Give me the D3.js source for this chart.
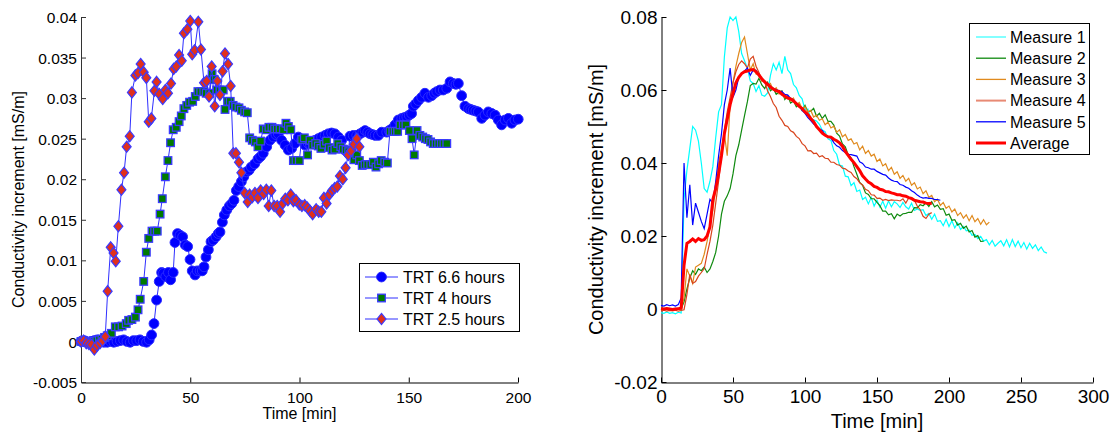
<!DOCTYPE html>
<html><head><meta charset="utf-8">
<script src="https://cdn.jsdelivr.net/npm/d3@7"></script>
<style>
body{margin:0;background:#fff}
svg{display:block}
text{font-family:"Liberation Sans",Arial,sans-serif;fill:#000}
</style>
</head><body>
<svg id="c" width="1116" height="433"></svg>
<script>
// ---------- LEFT PANEL DATA ----------
const leftSeriesNames = ["TRT 6.6 hours", "TRT 4 hours", "TRT 2.5 hours"];
const leftXTicks = [0, 50, 100, 150, 200];
const leftXTickLabels = ["0", "50", "100", "150", "200"];
const leftYTicks = [-0.005, 0, 0.005, 0.01, 0.015, 0.02, 0.025, 0.03, 0.035, 0.04];
const leftYTickLabels = ["-0.005", "0", "0.005", "0.01", "0.015", "0.02", "0.025", "0.03", "0.035", "0.04"];

const trt66Time = [0,1.5,3,4.5,6,7.5,9,10.5,12,13.5,15,16.5,18,19.5,21,22.5,24,25.5,27,28.5,30,31.2,
32.3,33.4,34.6,35.8,36.9,37.7,38.8,40,41,42.2,43,44.2,45.3,46.5,47.7,48.8,49.9,50.9,52.2,53.2,54.5,55.5,56.3,57.2,58.3,59.5,60.5,61.8,62.8,63.6,64.7,65.6,66.7,67.9,69,70,71.1,72.2,73.4,74.5,75.7,76.9,77.9,79.5,81,82.2,83.4,85,86.5,88,89.2,90.3,91.8,93.4,94.9,96.4,97.9,99.5,101,102.5,104,105.6,107.1,108.6,110.1,111.7,113.2,114.7,116.2,117.8,119.3,120.8,122.3,123.1,124.6,126.2,127.7,129,130,131.2,132.3,133.5,134.6,136.1,137.6,139.9,141,142.2,143.7,145.2,146.8,148,149.1,150.2,151.3,152.1,153.2,154.4,155.9,157.4,159,160.5,161.7,162.8,164.3,165.8,167.4,168.9,170.4,171.6,172.7,174.2,175.7,177.3,178.4,179.5,180.7,181.8,183.4,184.9,186.4,188,189.5,191,192.5,194.1,195.6,197.1,198.6,200.1];
const trt66Value = [0,.0001,-.0001,0,.0001,.0002,.0001,-.0001,-.0001,0,-.0001,0,.0001,.0002,0,-.0001,.0001,.0001,.0002,0,-.0001,.0002,
.0008,.0022,.0051,.0074,.0085,.0084,.0080,.0085,.0076,.0085,.0122,.0133,.0131,.0129,.0119,.0117,.0101,.0087,.0082,.0087,.0087,.0087,.0092,.0104,.0113,.0123,.0125,.0129,.0133,.0135,.0147,.0156,.0162,.0167,.0170,.0174,.0186,.0191,.0197,.0203,.0209,.0211,.0215,.0219,.0225,.0228,.0232,.0240,.0248,.0252,.0255,.0256,.0248,.0242,.0236,.0238,.0244,.0252,.0248,.0242,.0244,.0246,.0248,.0250,.0252,.0254,.0256,.0257,.0256,.0252,.0248,.0236,.0232,.0253,.0254,.0254,.0256,.0258,.0260,.0258,.0256,.0255,.0254,.0254,.0258,.0258,.0260,.0262,.0267,.0273,.0275,.0276,.0277,.0279,.0281,.0290,.0293,.0297,.0301,.0306,.0301,.0303,.0306,.0308,.0310,.0310,.0312,.0320,.0318,.0317,.0318,.0303,.0290,.0287,.0286,.0285,.0284,.0283,.0275,.0279,.0283,.0281,.0279,.0273,.0267,.0273,.0275,.0269,.0273,.0274];

const trt4Time = [0,1.2,2.4,3.6,4.8,6,7.2,8.4,9.6,10.8,12,13.9,15.7,17.2,18.8,20.7,21.8,23.3,24.9,26.1,27.1,28.7,29.9,31,32.5,33.7,34.9,36.2,37.2,38.6,39.8,41,42.2,43.6,44.9,45.9,47.1,48.4,49.7,51.1,52.3,53.5,54.8,56.2,57.3,58.9,60,60.9,62.1,63.6,65.1,65.9,67.1,68.3,69.6,70.9,72.3,73.4,74.9,76.1,77.2,78.4,79.8,81,82.2,83.4,84.8,86,87.4,88.6,89.8,91.1,92.6,93.8,94.9,96,97.2,98.4,99.9,101,102.2,103.7,104.8,106,107.4,108.6,109.8,111.2,112.4,113.6,114.9,116.2,117.5,118.9,120,121.3,122.5,123.9,124.9,126.2,127.4,128.7,130,131.2,132.6,133.8,135,136.2,137.4,139,140.2,141.4,142.7,143.8,144.9,146,147.5,148.7,150.3,151.5,152.5,153.8,155.1,156.4,157.6,158.8,160,161.2,162.5,163.7,164.9,166.1,167.4];
const trt4Value = [0,.0001,-.0001,0,-.0002,0,.0001,.0002,.0003,.0005,.0007,.0010,.0018,.0018,.0019,.0022,.0026,.0027,.0030,.0039,.0052,.0074,.0110,.0127,.0136,.0136,.0136,.0157,.0176,.0203,.0223,.0245,.0261,.0264,.0271,.0278,.0287,.0291,.0295,.0296,.0302,.0308,.0308,.0308,.0306,.0306,.0330,.0323,.0310,.0310,.0310,.0286,.0296,.0296,.0291,.0289,.0288,.0285,.0283,.0282,.0251,.0248,.0246,.0240,.0247,.0262,.0261,.0264,.0264,.0262,.0262,.0262,.0261,.0269,.0265,.0261,.0223,.0223,.0223,.0249,.0251,.0230,.0248,.0242,.0244,.0241,.0238,.0243,.0247,.0239,.0236,.0237,.0244,.0240,.0237,.0236,.0234,.0232,.0224,.0230,.0223,.0217,.0218,.0218,.0218,.0221,.0215,.0219,.0223,.0221,.0220,.0259,.0259,.0259,.0259,.0267,.0267,.0267,.0260,.0250,.0230,.0260,.0254,.0252,.0250,.0249,.0246,.0244,.0244,.0244,.0244,.0244,.0244];

const trt25Time = [0,1.2,2.4,3.6,4.8,6.1,7.3,8.7,9.9,11.1,12.2,13.6,14.9,15.9,17.1,18.5,19.7,20.9,22.3,23.3,24.9,26.1,27.3,28.7,29.9,31,32.2,33.6,34.6,35.8,37.4,38.6,39.8,41.2,42.4,43.6,44.9,46.1,47.1,48.7,50,50.9,52,53.7,54.9,56.3,57.5,58.6,59.8,61.2,62.4,63.6,64.8,65.9,67.3,68.5,69.7,70.9,72.3,73.4,74.9,76.3,77.2,78.4,79.6,81,82.2,83.6,84.8,85.9,87.1,88.4,89.8,91.1,92.3,93.5,94.7,96,97.2,98.4,99.9,101.1,102.4,103.6,104.8,106,107.6,108.8,110,111.2,112.4,113.6,114.9,116.1,117.3,118.5,119.8,121.1,122.3,123.6,124.9,126.2,127.4];
const trt25Value = [0,.0001,-.0002,-.0003,-.0004,-.0010,-.0005,-.0002,.0001,.0006,.0062,.0116,.0109,.0099,.0142,.0187,.0208,.0240,.0253,.0307,.0328,.0331,.0342,.0332,.0325,.0271,.0275,.0309,.0320,.0305,.0299,.0310,.0306,.0318,.0336,.0339,.0353,.0346,.0380,.0385,.0395,.0354,.0359,.0394,.0360,.0319,.0321,.0302,.0339,.0290,.0321,.0304,.0333,.0355,.0342,.0315,.0232,.0232,.0221,.0208,.0183,.0172,.0181,.0178,.0183,.0177,.0186,.0182,.0187,.0167,.0186,.0167,.0167,.0160,.0170,.0176,.0174,.0181,.0173,.0174,.0169,.0167,.0168,.0165,.0161,.0157,.0163,.0160,.0160,.0177,.0170,.0181,.0186,.0189,.0191,.0204,.0200,.0214,.0230,.0235,.0243,.0250,.0240];

// ---------- RIGHT PANEL DATA ----------
const rightSeriesNames = ["Measure 1", "Measure 2", "Measure 3", "Measure 4", "Measure 5", "Average"];
const rightXTicks = [0, 50, 100, 150, 200, 250, 300];
const rightXTickLabels = ["0", "50", "100", "150", "200", "250", "300"];
const rightYTicks = [-0.02, 0, 0.02, 0.04, 0.06, 0.08];
const rightYTickLabels = ["-0.02", "0", "0.02", "0.04", "0.06", "0.08"];
const rightSampleStep = 2; // minutes between samples

const measure1 = [-.0010,-.0012,-.0008,-.0012,-.0010,-.0013,-.0009,-.0011,
.0300,.0380,.0440,.0500,.0490,.0460,.0400,.0330,.0320,.0350,.0390,.0470,
.0540,.0560,.0690,.0770,.0800,.0790,.0800,.0760,.0700,.0680,
.0660,.0625,.0618,.0596,.0612,.0586,.0583,.0592,.0640,.0672,
.0655,.0676,.0645,.0692,.0655,.0645,.0615,.0606,.0585,.0576,
.0545,.0548,.0520,.0518,.0515,.0506,.0490,.0486,.0466,.0462,
.0434,.0424,.0394,.0392,.0364,.0362,.0338,.0346,.0322,.0326,
.0300,.0306,.0288,.0306,.0282,.0298,.0279,.0295,.0276,.0296,
.0280,.0294,.0288,.0278,.0292,.0280,.0274,.0290,.0270,.0274,
.0270,.0272,.0256,.0262,.0246,.0260,.0240,.0242,.0228,.0246,
.0226,.0242,.0222,.0236,.0218,.0226,.0214,.0216,.0202,.0204,
.0193,.0199,.0186,.0190,.0176,.0188,.0172,.0180,.0187,.0173,
.0190,.0170,.0190,.0171,.0186,.0168,.0182,.0164,.0180,.0166,
.0176,.0160,.0170,.0157,.0153];
const measure2 = [.0000,-.0002,.0001,-.0001,.0000,.0002,-.0001,.0000,
.0020,.0055,.0085,.0105,.0095,.0110,.0105,.0115,.0100,.0110,.0130,.0155,
.0200,.0260,.0295,.0310,.0330,.0370,.0420,.0450,.0490,.0530,
.0568,.0612,.0618,.0616,.0632,.0614,.0604,.0621,.0598,.0604,
.0588,.0594,.0598,.0574,.0584,.0564,.0570,.0554,.0560,.0544,
.0558,.0540,.0542,.0550,.0528,.0536,.0522,.0532,.0514,.0514,
.0504,.0482,.0474,.0452,.0444,.0422,.0414,.0390,.0369,.0347,
.0339,.0318,.0314,.0302,.0302,.0292,.0283,.0268,.0268,.0258,
.0261,.0247,.0260,.0255,.0261,.0262,.0265,.0265,.0278,.0277,
.0286,.0283,.0291,.0281,.0294,.0280,.0285,.0273,.0275,.0257,
.0260,.0243,.0245,.0230,.0235,.0221,.0227,.0211,.0215,.0197,
.0201,.0185,.0186];
const measure3 = [.0000,.0002,-.0001,.0001,.0000,.0001,-.0001,.0000,
.0030,.0110,.0090,.0070,.0115,.0120,.0125,.0150,.0185,.0230,.0270,.0330,
.0400,.0440,.0480,.0420,.0560,.0620,.0665,.0700,.0730,.0745,
.0700,.0655,.0672,.0644,.0641,.0624,.0626,.0612,.0618,.0599,
.0606,.0589,.0596,.0579,.0586,.0570,.0578,.0559,.0566,.0549,
.0554,.0540,.0544,.0526,.0531,.0517,.0521,.0505,.0512,.0496,
.0501,.0484,.0491,.0472,.0478,.0462,.0466,.0452,.0456,.0436,
.0446,.0426,.0434,.0419,.0424,.0404,.0411,.0392,.0398,.0379,
.0388,.0369,.0376,.0358,.0366,.0350,.0358,.0339,.0346,.0329,
.0334,.0316,.0324,.0306,.0311,.0294,.0301,.0284,.0292,.0276,
.0282,.0266,.0274,.0256,.0264,.0249,.0258,.0242,.0256,.0239,
.0248,.0232,.0245,.0231,.0238];
const measure4 = [-.0005,-.0003,-.0006,-.0004,-.0005,-.0003,-.0006,-.0004,-.0002,
.0040,.0095,.0070,.0075,.0090,.0100,.0110,
.0150,.0185,.0230,.0290,
.0350,.0420,.0490,.0540,.0580,.0620,.0650,.0670,.0680,.0672,
.0660,.0685,.0692,.0665,.0648,.0628,.0622,.0598,.0582,.0563,
.0552,.0528,.0517,.0503,.0500,.0488,.0484,.0473,.0467,.0453,
.0447,.0433,.0434,.0426,.0427,.0417,.0420,.0413,.0412,.0402,
.0402,.0396,.0394,.0386,.0384,.0378,.0374,.0363,.0357,.0346,
.0340,.0328,.0324,.0313,.0312,.0303,.0304,.0298,.0300,.0297,
.0299,.0298,.0298,.0296,.0302,.0290,.0304,.0300,.0297,.0282,
.0272,.0254,.0248,.0260,.0264];
const measure5 = [.0010,.0008,.0012,.0009,.0011,.0008,.0012,
.0030,.0400,.0250,.0340,.0230,.0290,.0265,.0240,.0220,.0260,.0300,.0290,.0350,
.0420,.0480,.0560,.0600,.0660,.0580,.0600,.0635,.0645,.0652,
.0660,.0640,.0655,.0654,.0641,.0629,.0621,.0614,.0611,.0603,
.0601,.0597,.0596,.0588,.0586,.0577,.0573,.0564,.0556,.0544,
.0536,.0524,.0516,.0507,.0501,.0494,.0489,.0477,.0471,.0469,
.0456,.0447,.0443,.0434,.0429,.0424,.0423,.0421,.0419,.0403,
.0399,.0389,.0387,.0383,.0383,.0377,.0373,.0369,.0367,.0359,
.0353,.0350,.0349,.0341,.0339,.0334,.0331,.0324,.0319,.0312,
.0307,.0304,.0305,.0303,.0303,.0300,.0300,.0298];
const average = [.0001,.0000,.0001,.0000,-.0001,.0000,.0001,.0002,
.0120,.0180,.0185,.0192,.0185,.0193,.0188,.0190,.0200,.0225,.0300,.0330,
.0370,.0420,.0480,.0520,.0560,.0590,.0620,.0635,.0645,.0650,
.0652,.0655,.0656,.0650,.0641,.0631,.0622,.0616,.0608,.0603,
.0598,.0596,.0588,.0583,.0578,.0576,.0570,.0563,.0555,.0549,
.0540,.0533,.0522,.0513,.0500,.0491,.0482,.0476,.0472,.0471,
.0465,.0461,.0455,.0446,.0432,.0421,.0410,.0401,.0390,.0379,
.0365,.0356,.0348,.0343,.0336,.0333,.0328,.0326,.0322,.0321,
.0318,.0316,.0313,.0313,.0310,.0309,.0305,.0303,.0298,.0296,
.0294,.0293,.0290,.0289,.0290];

// ---------- DRAW ----------
const svg = d3.select("#c");
const FONT_L = 15.5, FONT_R = 19;

function styleAxis(g, color, fs) {
  g.select(".domain").attr("stroke", color);
  g.selectAll(".tick line").attr("stroke", color);
  g.selectAll(".tick text").attr("font-size", fs).attr("fill", "#000")
    .attr("font-family", '"Liberation Sans",Arial,sans-serif');
}

// LEFT PANEL
const Lx = d3.scaleLinear().domain([0, 200]).range([81, 518]);
const Ly = d3.scaleLinear().domain([-0.005, 0.04]).range([382, 17]);
const left = svg.append("g");

const lxAxis = left.append("g").attr("transform", "translate(0,382.5)")
  .call(d3.axisBottom(Lx).tickValues(leftXTicks).tickFormat((d, i) => leftXTickLabels[i])
    .tickSize(-5).tickSizeOuter(0).tickPadding(9));
styleAxis(lxAxis, "#000", FONT_L);
const lyAxis = left.append("g").attr("transform", "translate(81,0)")
  .call(d3.axisLeft(Ly).tickValues(leftYTicks).tickFormat((d, i) => leftYTickLabels[i])
    .tickSize(-5).tickSizeOuter(0).tickPadding(4));
styleAxis(lyAxis, "#333", FONT_L);
lyAxis.selectAll(".tick text").attr("dy", "0.36em");

left.append("text").attr("x", 299.5).attr("y", 419).attr("text-anchor", "middle")
  .attr("font-size", 16).text("Time [min]");
left.append("text").attr("transform", "translate(24,199.5) rotate(-90)").attr("text-anchor", "middle")
  .attr("font-size", 16).text("Conductivity increment [mS/m]");

const lineCol = "#2f2fff";
const leftSeries = [
  {t: trt66Time, v: trt66Value, shape: "circle", fill: "#0000ff"},
  {t: trt4Time, v: trt4Value, shape: "square", fill: "#007a00"},
  {t: trt25Time, v: trt25Value, shape: "diamond", fill: "#e0301c"}
];
function drawMarker(g, shape, fill, x, y) {
  if (shape === "circle") {
    g.append("circle").attr("cx", x).attr("cy", y).attr("r", 4.9)
      .attr("fill", fill).attr("stroke", "#2a2aff").attr("stroke-width", 1);
  } else if (shape === "square") {
    g.append("rect").attr("x", x - 3.8).attr("y", y - 3.8).attr("width", 7.6).attr("height", 7.6)
      .attr("fill", fill).attr("stroke", "#3a3aff").attr("stroke-width", 1.3);
  } else {
    const s = 5.6;
    g.append("path").attr("d", `M${x},${y - s}L${x + s * 0.8},${y}L${x},${y + s}L${x - s * 0.8},${y}Z`)
      .attr("fill", fill).attr("stroke", "#3a3aff").attr("stroke-width", 1.2);
  }
}
leftSeries.forEach(s => {
  const pts = s.t.map((t, i) => [Lx(t), Ly(s.v[i])]);
  left.append("path").attr("d", d3.line()(pts)).attr("fill", "none")
    .attr("stroke", lineCol).attr("stroke-width", 1);
  const mg = left.append("g");
  pts.forEach(p => drawMarker(mg, s.shape, s.fill, p[0], p[1]));
});

// left legend
const lleg = left.append("g");
lleg.append("rect").attr("x", 359.5).attr("y", 263.5).attr("width", 160).attr("height", 68)
  .attr("fill", "#fff").attr("stroke", "#000").attr("stroke-width", 1);
leftSeriesNames.forEach((name, i) => {
  const y = 277 + i * 21;
  lleg.append("line").attr("x1", 365).attr("x2", 398).attr("y1", y).attr("y2", y)
    .attr("stroke", lineCol).attr("stroke-width", 1);
  drawMarker(lleg, leftSeries[i].shape, leftSeries[i].fill, 381.5, y);
  lleg.append("text").attr("x", 403).attr("y", y).attr("dy", "0.36em").attr("font-size", 16).text(name);
});

// RIGHT PANEL
const Rx = d3.scaleLinear().domain([0, 300]).range([661, 1093]);
const Ry = d3.scaleLinear().domain([-0.02, 0.08]).range([382, 17]);
const right = svg.append("g");
const rxAxis = right.append("g").attr("transform", "translate(0,382.5)")
  .call(d3.axisBottom(Rx).tickValues(rightXTicks).tickFormat((d, i) => rightXTickLabels[i])
    .tickSize(-5).tickSizeOuter(0).tickPadding(7));
styleAxis(rxAxis, "#000", FONT_R);
const ryAxis = right.append("g").attr("transform", "translate(661.5,0)")
  .call(d3.axisLeft(Ry).tickValues(rightYTicks).tickFormat((d, i) => rightYTickLabels[i])
    .tickSize(-5).tickSizeOuter(0).tickPadding(4));
styleAxis(ryAxis, "#000", FONT_R);
ryAxis.selectAll(".tick text").attr("dy", "0.36em");

right.append("text").attr("x", 877).attr("y", 428).attr("text-anchor", "middle")
  .attr("font-size", 20).text("Time [min]");
right.append("text").attr("transform", "translate(603,199.5) rotate(-90)").attr("text-anchor", "middle")
  .attr("font-size", 20).text("Conductivity increment [mS/m]");

const rightSeries = [
  {v: measure1, color: "#00ffff", w: 1.2, legColor: "#40ffff"},
  {v: measure2, color: "#0f8a0f", w: 1.2, legColor: "#0f8a0f"},
  {v: measure3, color: "#e08a1e", w: 1.2, legColor: "#e08a1e"},
  {v: measure4, color: "#d8441c", w: 1.2, legColor: "#e88a74"},
  {v: measure5, color: "#0000ff", w: 1.2, legColor: "#0000ff"},
  {v: average, color: "#ff0000", w: 3, legColor: "#ff0000"}
];
rightSeries.forEach(s => {
  const line = d3.line().x((d, i) => Rx(i * rightSampleStep)).y(d => Ry(d));
  right.append("path").attr("d", line(s.v)).attr("fill", "none")
    .attr("stroke", s.color).attr("stroke-width", s.w).attr("stroke-linejoin", "miter");
});

const rleg = right.append("g");
rleg.append("rect").attr("x", 969.5).attr("y", 23.5).attr("width", 120).attr("height", 131)
  .attr("fill", "#fff").attr("stroke", "#000").attr("stroke-width", 1);
rightSeriesNames.forEach((name, i) => {
  const y = 37 + i * 21.2;
  rleg.append("line").attr("x1", 976).attr("x2", 1006).attr("y1", y).attr("y2", y)
    .attr("stroke", rightSeries[i].legColor).attr("stroke-width", i === 5 ? 3 : (i === 3 ? 2 : 1.3));
  rleg.append("text").attr("x", 1010).attr("y", y).attr("dy", "0.36em").attr("font-size", 16).text(name);
});
</script>
</body></html>
